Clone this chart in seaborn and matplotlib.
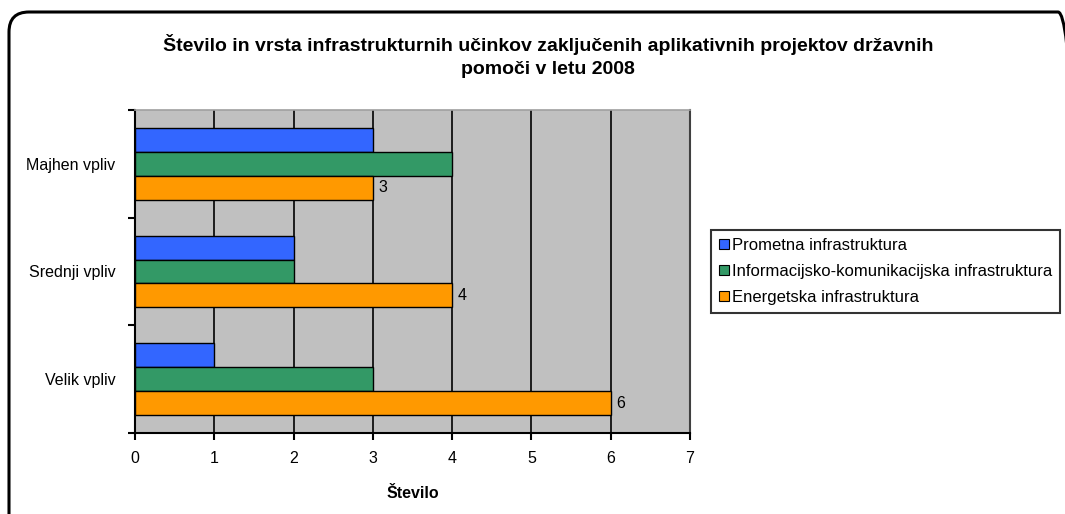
import matplotlib
matplotlib.use("Agg")
import matplotlib.pyplot as plt
import seaborn as sns
import pandas as pd
from matplotlib.patches import FancyBboxPatch

categories = ["Majhen vpliv", "Srednji vpliv", "Velik vpliv"]
series = ["Prometna infrastruktura",
          "Informacijsko-komunikacijska infrastruktura",
          "Energetska infrastruktura"]
prometna = [3, 2, 1]
ikt = [4, 2, 3]
energetska = [3, 4, 6]
colors = ["#3366FF", "#339966", "#FF9900"]
x_ticks = [0, 1, 2, 3, 4, 5, 6, 7]

sns.set_theme(style="white")
plt.rcParams["font.family"] = ["Liberation Sans", "DejaVu Sans"]
plt.rcParams["text.color"] = "black"

rows = []
for name, vals in zip(series, [prometna, ikt, energetska]):
    for cat, v in zip(categories, vals):
        rows.append({"Kategorija": cat, "Serija": name, "Število": v})
df = pd.DataFrame(rows)

W, H = 1065, 514
fig = plt.figure(figsize=(W / 100, H / 100), dpi=100)
ax = fig.add_axes([135 / W, (H - 433) / H, (690 - 135) / W, (433 - 110) / H])

sns.barplot(data=df, y="Kategorija", x="Število", hue="Serija",
            order=categories, hue_order=series, palette=colors,
            orient="h", width=0.667, edgecolor="black", linewidth=1.0,
            saturation=1, ax=ax, zorder=3)

ax.set_facecolor("#C0C0C0")
ax.set_xlim(0, 7)
ax.set_ylim(2.5, -0.5)
ax.set_xticks(x_ticks)
ax.set_xticklabels([str(t) for t in x_ticks], fontsize=11.5, color="black")
ax.set_yticks([-0.5, 0.5, 1.5, 2.5], minor=False)
ax.set_yticklabels([])
ax.set_yticks([0, 1, 2], minor=True)
ax.set_yticklabels(categories, minor=True, fontsize=11.5, color="black")
ax.tick_params(axis="y", which="minor", length=0, pad=14)
ax.tick_params(axis="y", which="major", direction="out", length=5, width=1.5, color="black", left=True)
ax.tick_params(axis="x", direction="out", length=5, width=1.5, color="black", bottom=True, pad=8)

for x in x_ticks[1:-1]:
    ax.axvline(x, color="black", linewidth=1.2, zorder=1)

ax.spines["top"].set_color("#A0A0A0")
ax.spines["top"].set_linewidth(1.2)
ax.spines["right"].set_color("#404040")
ax.spines["right"].set_linewidth(1.5)
ax.spines["left"].set_color("black")
ax.spines["left"].set_linewidth(1.5)
ax.spines["bottom"].set_color("black")
ax.spines["bottom"].set_linewidth(1.5)

ax.set_ylabel("")
ax.set_xlabel("Število", fontsize=11.5, fontweight="bold", labelpad=14, color="black")

# value labels on the energy bars
energy_bars = ax.containers[2]
ax.bar_label(energy_bars, labels=[str(v) for v in energetska], padding=4, fontsize=11.5, color="black")

leg = ax.legend(loc="upper left", bbox_to_anchor=(711 / W, (H - 230) / H),
                bbox_transform=fig.transFigure, frameon=True, fontsize=12,
                handlelength=0.55, handleheight=0.55, handletextpad=0.2,
                borderpad=0.5, labelspacing=0.65, fancybox=False,
                borderaxespad=0)
leg.get_frame().set_edgecolor("black")
leg.get_frame().set_linewidth(1.5)
for t in leg.get_texts():
    t.set_color("black")
for h in leg.legend_handles:
    h.set_edgecolor("black")
    h.set_linewidth(0.8)

fig.suptitle("Število in vrsta infrastrukturnih učinkov zaključenih aplikativnih projektov državnih\npomoči v letu 2008",
             x=548 / W, y=1 - 34 / H, fontsize=14, fontweight="bold", linespacing=1.45,
             va="top", color="black")

# rounded frame around the whole chart (inches, so the corners stay circular)
border = FancyBboxPatch((0.09, -0.3), (1078 - 9) / 100, (H + 30 - 12) / 100,
                        boxstyle="round,pad=0,rounding_size=0.2",
                        transform=fig.dpi_scale_trans, fill=False,
                        edgecolor="black", linewidth=2.2)
fig.patches.append(border)

fig.savefig("out.png", dpi=100, facecolor="white")
